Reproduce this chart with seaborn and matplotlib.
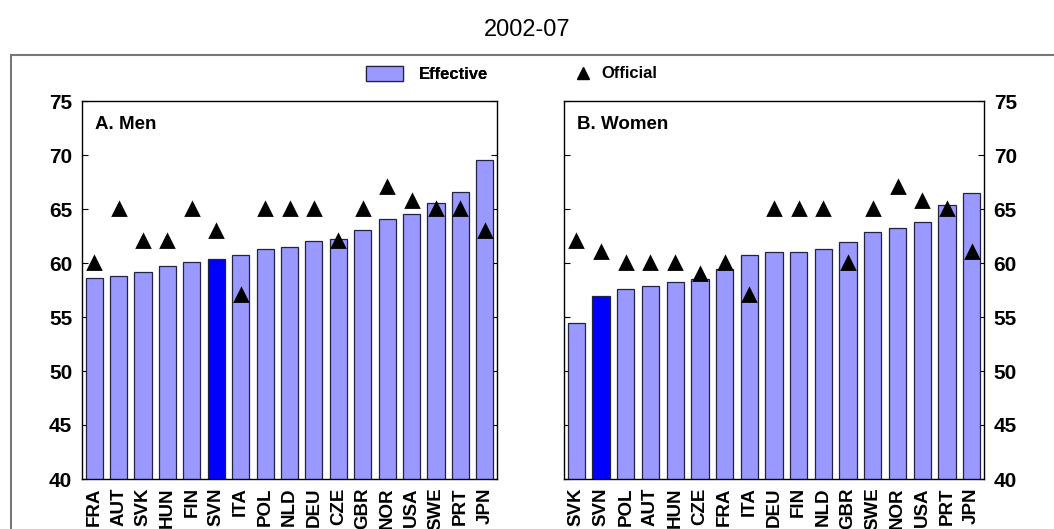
import matplotlib
matplotlib.use("Agg")
import matplotlib.pyplot as plt
import seaborn as sns
import pandas as pd
from matplotlib.patches import Patch, Rectangle
from matplotlib.lines import Line2D

# Data (2002-07)
men_countries = ["FRA", "AUT", "SVK", "HUN", "FIN", "SVN", "ITA", "POL", "NLD",
                 "DEU", "CZE", "GBR", "NOR", "USA", "SWE", "PRT", "JPN"]
men_effective = [58.6, 58.8, 59.2, 59.7, 60.1, 60.4, 60.7, 61.3, 61.5,
                 62.0, 62.2, 63.1, 64.1, 64.5, 65.6, 66.6, 69.5]
men_official = [60, 65, 62, 62, 65, 63, 57, 65, 65,
                65, 62, 65, 67, 65.75, 65, 65, 63]

women_countries = ["SVK", "SVN", "POL", "AUT", "HUN", "CZE", "FRA", "ITA", "DEU",
                   "FIN", "NLD", "GBR", "SWE", "NOR", "USA", "PRT", "JPN"]
women_effective = [54.4, 56.9, 57.6, 57.9, 58.2, 58.5, 59.4, 60.7, 61.0,
                   61.0, 61.3, 61.9, 62.9, 63.2, 63.8, 65.4, 66.5]
women_official = [62, 61, 60, 60, 60, 59, 60, 57, 65,
                  65, 65, 60, 65, 67, 65.75, 65, 61]

yticks = [40, 45, 50, 55, 60, 65, 70, 75]

bar_color = "#9999FF"
highlight = "#0000FF"

sns.set_style("white")
plt.rcParams["font.family"] = ["Liberation Sans", "DejaVu Sans"]
plt.rcParams["text.color"] = "black"
plt.rcParams["xtick.color"] = "black"
plt.rcParams["ytick.color"] = "black"
plt.rcParams["axes.labelcolor"] = "black"

fig = plt.figure(figsize=(10.54, 5.29), dpi=100)

# outer frame
fig.patches.append(Rectangle((10.5 / 1054, -0.05), 1.1, 1.05 - 55 / 529,
                             transform=fig.transFigure, fill=False,
                             edgecolor="#777777", linewidth=1.5))

fig.text(0.5, 1 - 30 / 529, "2002-07", ha="center", va="center", fontsize=17)

ax_m = fig.add_axes([82 / 1054, 50 / 529, 415 / 1054, 378 / 529])
ax_w = fig.add_axes([564 / 1054, 50 / 529, 420 / 1054, 378 / 529])


def panel(ax, countries, effective, official, label, side):
    df = pd.DataFrame({"country": countries, "effective": effective,
                       "official": official})
    pal = {c: (highlight if c == "SVN" else bar_color) for c in countries}
    sns.barplot(data=df, x="country", y="effective", hue="country",
                palette=pal, order=countries, width=0.7, legend=False,
                edgecolor="#222244", linewidth=0.9, saturation=1, ax=ax)
    sns.pointplot(data=df, x="country", y="official", order=countries,
                  color="black", linestyle="none", marker="^",
                  markersize=9, errorbar=None, ax=ax)
    ax.set_ylim(40, 75)
    ax.set_xlim(-0.5, len(countries) - 0.5)
    ax.set_yticks(yticks)
    ax.set_xlabel("")
    ax.set_ylabel("")
    ax.tick_params(axis="x", length=0, pad=6, labelsize=13.5, rotation=90)
    ax.tick_params(axis="y", direction="in", length=4, pad=7, labelsize=15,
                   left=True, right=True,
                   labelleft=(side == "left"), labelright=(side == "right"))
    for t in ax.get_xticklabels() + ax.get_yticklabels():
        t.set_fontweight("bold")
    for s in ax.spines.values():
        s.set_color("black")
        s.set_linewidth(1.0)
    ax.text(0.031, 0.939, label, transform=ax.transAxes, ha="left",
            va="center", fontsize=13.5, fontweight="bold")


panel(ax_m, men_countries, men_effective, men_official, "A. Men", "left")
panel(ax_w, women_countries, women_effective, women_official, "B. Women", "right")

leg1 = fig.legend(handles=[Patch(facecolor=bar_color, edgecolor="#222244",
                                 linewidth=0.9, label="Effective")],
                  loc="center left", bbox_to_anchor=(366 / 1054, 1 - 74 / 529),
                  frameon=False, borderpad=0, borderaxespad=0,
                  handlelength=2.2, handleheight=1.05, handletextpad=1.0,
                  prop={"size": 12, "weight": "bold"})
fig.add_artist(leg1)
fig.legend(handles=[Line2D([], [], color="black", marker="^", linestyle="none",
                           markersize=9, label="Official")],
           loc="center left", bbox_to_anchor=(575 / 1054, 1 - 74 / 529),
           frameon=False, borderpad=0, borderaxespad=0,
           handlelength=1.0, handletextpad=0.6,
           prop={"size": 12, "weight": "bold"})

fig.savefig("out.png", dpi=100)
